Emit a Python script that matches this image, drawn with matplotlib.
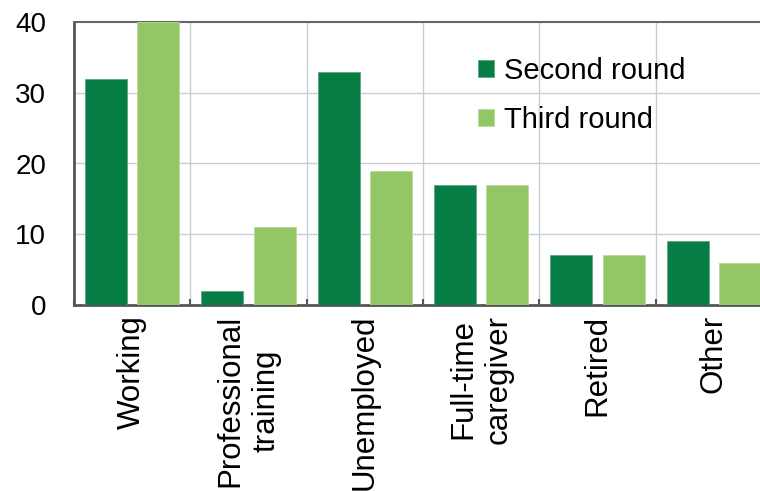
import matplotlib
matplotlib.use("Agg")
import matplotlib.pyplot as plt
import numpy as np

categories = ["Working", "Professional\ntraining", "Unemployed",
              "Full-time\ncaregiver", "Retired", "Other"]
second_round = [32, 2, 33, 17, 7, 9]
third_round = [40, 11, 19, 17, 7, 6]
series_labels = ["Second round", "Third round"]
y_ticks = [0, 10, 20, 30, 40]

dark_green = "#077D46"
light_green = "#93C766"

plt.rcParams["font.family"] = ["Liberation Sans", "DejaVu Sans"]

fig = plt.figure(figsize=(7.6, 4.91), dpi=100)
W, H = 760, 491
ax = fig.add_axes([74 / W, (H - 305) / H, (772 - 74) / W, (305 - 22) / H])

x = np.arange(len(categories))
bw = 0.36
ax.bar(x - 0.225, second_round, bw, color=dark_green, edgecolor="#5FA57F",
       linewidth=0.6, label=series_labels[0], zorder=3)
ax.bar(x + 0.225, third_round, bw, color=light_green, edgecolor="#B8DC9C",
       linewidth=0.6, label=series_labels[1], zorder=3)

ax.set_xlim(-0.5, len(categories) - 0.5)
ax.set_ylim(0, 40)
ax.set_yticks(y_ticks)
ax.tick_params(axis="y", length=0, pad=20, labelsize=20)

ax.set_xticks(x)
ax.set_xticklabels(categories, rotation=90, fontsize=22.5, va="top",
                   ha="center", linespacing=1.25)
ax.tick_params(axis="x", length=0, pad=7)
ax.set_xticks(np.arange(len(categories) + 1) - 0.5, minor=True)
ax.tick_params(axis="x", which="minor", direction="in", length=4,
               width=1.5, color="#555555")

# horizontal grid at value ticks, vertical grid at category boundaries
for v in y_ticks[1:-1]:
    ax.axhline(v, color="#C9CDD2", linewidth=1, zorder=1)
for b in np.arange(1, len(categories)) - 0.5:
    ax.axvline(b, color="#C9CDD2", linewidth=1, zorder=1)

for side in ["left", "bottom", "top"]:
    ax.spines[side].set_color("#555555")
    ax.spines[side].set_linewidth(2)
ax.spines["top"].set_linewidth(1.5)
ax.spines["top"].set_color("#666666")
ax.spines["right"].set_visible(False)

leg = ax.legend(loc="upper left", bbox_to_anchor=(478 / W, (H - 57) / H),
                bbox_transform=fig.transFigure, frameon=False, fontsize=21,
                handlelength=0.55, handleheight=0.55, handletextpad=0.35,
                labelspacing=0.72, borderpad=0, borderaxespad=0)

fig.savefig("out.png", dpi=100)
